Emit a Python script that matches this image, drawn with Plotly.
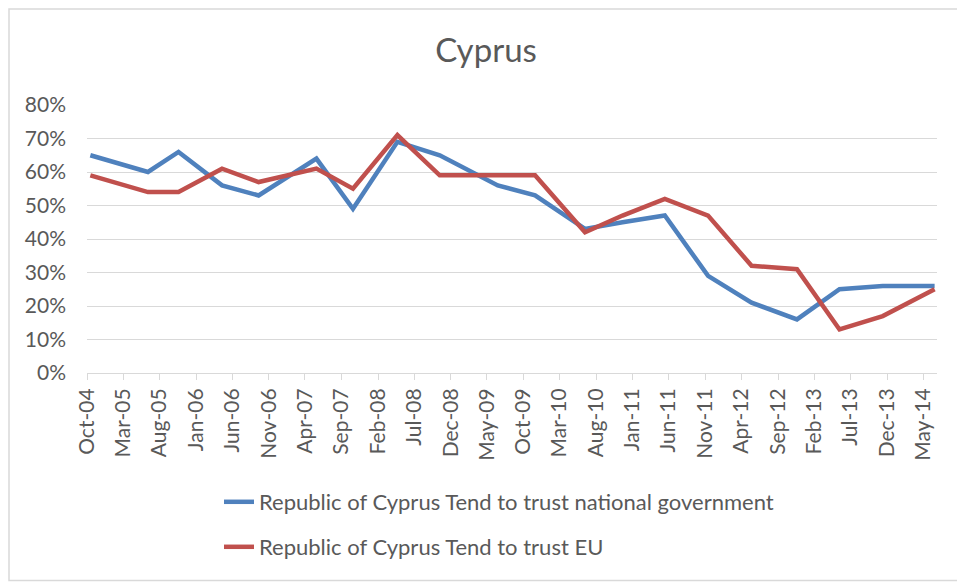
import plotly.graph_objects as go

# Eurobarometer survey dates (approx. fieldwork months)
survey_dates = ["2004-10-15", "2005-06-13", "2005-10-19", "2006-04-19", "2006-09-19",
                "2007-05-19", "2007-10-19", "2008-04-22", "2008-10-16", "2009-06-16",
                "2009-11-19", "2010-06-16", "2010-11-20", "2011-05-16", "2011-11-13",
                "2012-05-13", "2012-11-19", "2013-05-16", "2013-11-13", "2014-06-18"]

trust_gov = [0.65, 0.60, 0.66, 0.56, 0.53, 0.64, 0.49, 0.69, 0.65, 0.56,
             0.53, 0.43, 0.45, 0.47, 0.29, 0.21, 0.16, 0.25, 0.26, 0.26]
trust_eu = [0.59, 0.54, 0.54, 0.61, 0.57, 0.61, 0.55, 0.71, 0.59, 0.59,
            0.59, 0.42, 0.47, 0.52, 0.47, 0.32, 0.31, 0.13, 0.17, 0.25]

name_gov = "Republic of Cyprus Tend to trust national government"
name_eu = "Republic of Cyprus Tend to trust EU"

FONT = "Lato"
GREY = "#595959"

fig = go.Figure()
fig.add_trace(go.Scatter(x=survey_dates, y=trust_gov, mode="lines", name=name_gov,
                         line=dict(color="#4F81BD", width=4.5), legend="legend"))
fig.add_trace(go.Scatter(x=survey_dates, y=trust_eu, mode="lines", name=name_eu,
                         line=dict(color="#C0504D", width=4.5), legend="legend2"))

OFF = 8  # page body margin
W, H = 965 - OFF, 582 - OFF
L, R, T, B = 87 - OFF, 28, 105 - OFF, 209
pw, ph = W - L - R, H - T - B

def px(x):  # page px -> paper x
    return (x - OFF - L) / pw

def py(y):  # page px -> paper y
    return (H - B - (y - OFF)) / ph

leg = dict(font=dict(family=FONT, size=22, color=GREY), bgcolor="rgba(0,0,0,0)",
           xanchor="left", yanchor="middle", x=px(219))

fig.update_layout(
    width=W, height=H,
    margin=dict(l=L, r=R, t=T, b=B),
    paper_bgcolor="white", plot_bgcolor="white",
    title=dict(text="Cyprus", x=(486 - OFF) / W, xref="container", xanchor="center",
               y=1 - (50 - OFF) / H, yanchor="middle",
               font=dict(family=FONT, size=33, color=GREY)),
    font=dict(family=FONT, color=GREY),
    showlegend=True,
    legend=dict(leg, y=py(502)),
    legend2=dict(leg, y=py(547)),
    xaxis=dict(type="date", range=["2004-10-01", "2014-06-28"],
               tickmode="linear", tick0="2004-10-01", dtick="M5",
               tickformat="%b-%y", tickangle=-90,
               tickfont=dict(family=FONT, size=21, color=GREY),
               showgrid=False, showline=True, linecolor="#D9D9D9", linewidth=1,
               ticks="outside", ticklen=6, tickcolor="#D9D9D9", zeroline=False),
    yaxis=dict(range=[0, 0.8], dtick=0.1, tickformat=".0%",
               tickfont=dict(family=FONT, size=21, color=GREY),
               showgrid=True, gridcolor="#D9D9D9", gridwidth=1,
               zeroline=False, showline=False, ticks="", ticklabelstandoff=20),
    shapes=[dict(type="rect", xref="paper", yref="paper",
                 x0=px(9), x1=px(975), y0=py(9), y1=py(580.5),
                 line=dict(color="#D9D9D9", width=1.5), layer="below")],
)

fig.write_html("out.html")
